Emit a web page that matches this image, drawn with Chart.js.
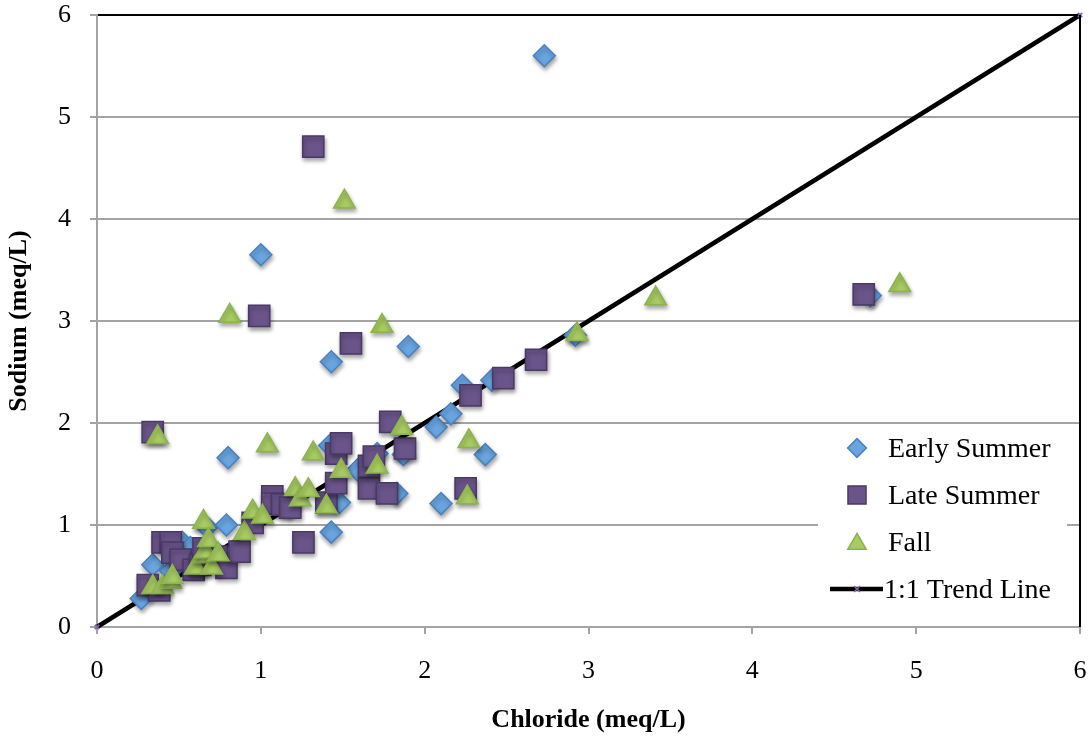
<!DOCTYPE html>
<html><head><meta charset="utf-8">
<script src="https://cdn.jsdelivr.net/npm/chart.js@4/dist/chart.umd.min.js"></script>
<style>html,body{margin:0;padding:0;background:#fff}canvas{display:block}</style>
</head><body>
<canvas id="c" width="1092" height="740"></canvas>
<script>
const axisTicks = [0, 1, 2, 3, 4, 5, 6];
const seriesNames = ['Early Summer', 'Late Summer', 'Fall', '1:1 Trend Line'];

const earlyChloride = [0.27,0.34,0.45,0.52,0.57,0.62,0.67,0.75,0.79,0.80,1.00,1.17,1.42,1.43,1.43,1.48,1.59,1.71,1.83,1.87,1.90,2.07,2.10,2.16,2.23,2.37,2.41,2.73,2.92,4.72];
const earlySodium   = [0.28,0.61,0.55,0.83,0.78,0.62,0.98,0.70,1.00,1.66,3.65,1.18,1.78,2.60,0.93,1.22,1.54,1.70,1.31,1.69,2.75,1.96,1.21,2.09,2.37,1.69,2.42,5.60,2.86,3.25];

const lateChloride = [0.31,0.34,0.38,0.40,0.45,0.46,0.51,0.59,0.63,0.65,0.73,0.79,0.87,0.95,0.99,1.07,1.07,1.13,1.18,1.26,1.32,1.40,1.46,1.46,1.49,1.55,1.66,1.66,1.69,1.77,1.79,1.88,2.25,2.28,2.48,2.68,4.68];
const lateSodium   = [0.41,1.91,0.36,0.83,0.83,0.73,0.66,0.56,0.61,0.77,0.69,0.58,0.74,1.02,3.05,1.28,1.21,1.20,1.17,0.83,4.71,1.22,1.41,1.70,1.80,2.78,1.36,1.58,1.67,1.31,2.01,1.75,1.36,2.27,2.44,2.62,3.26];

const fallChloride = [0.34,0.37,0.40,0.45,0.46,0.60,0.65,0.65,0.66,0.68,0.70,0.74,0.81,0.90,0.95,1.01,1.04,1.21,1.24,1.29,1.32,1.40,1.49,1.51,1.71,1.74,1.86,2.26,2.27,2.93,3.41,4.90];
const fallSodium   = [0.39,1.86,0.39,0.44,0.49,0.58,1.03,0.69,0.74,0.85,0.58,0.71,3.05,0.92,1.13,1.08,1.78,1.35,1.25,1.34,1.70,1.18,1.53,4.17,1.57,2.95,1.95,1.27,1.82,2.87,3.22,3.35];

const trendChloride = [0, 6];
const trendSodium   = [0, 6];

const pts = (xs, ys) => xs.map((x, i) => ({x, y: ys[i]}));

const FONT = "'Liberation Serif', 'Times New Roman', serif";
const GRID = '#a3a3a3';

const styles = [
  {shape: 'rectRot', fill: '#69a5df', stroke: '#4a80c2', r: 11},
  {shape: 'rect', fill: '#6a5489', stroke: '#4a3967', r: 15},
  {shape: 'triangle', fill: '#a9cc62', stroke: '#8cb34e', r: 12.5}
];

const shadowPlugin = {
  id: 'shadow',
  beforeDatasetDraw(chart, args) {
    if (chart.data.datasets[args.index].type !== 'scatter') return;
    const ctx = chart.ctx;
    ctx.save();
    ctx.shadowColor = 'rgba(0,0,0,0.35)';
    ctx.shadowBlur = 4;
    ctx.shadowOffsetX = 1;
    ctx.shadowOffsetY = 3;
  },
  afterDatasetDraw(chart, args) {
    if (chart.data.datasets[args.index].type !== 'scatter') return;
    chart.ctx.restore();
  }
};

function shapePath(ctx, shape, x, y, r) {
  ctx.beginPath();
  if (shape === 'rectRot') {
    ctx.moveTo(x, y - r); ctx.lineTo(x + r, y); ctx.lineTo(x, y + r); ctx.lineTo(x - r, y); ctx.closePath();
  } else if (shape === 'rect') {
    const s = r * Math.SQRT1_2;
    ctx.rect(x - s, y - s, 2 * s, 2 * s);
  } else {
    const w = r * Math.sqrt(3) / 2;
    ctx.moveTo(x, y - r); ctx.lineTo(x + w, y + r / 2); ctx.lineTo(x - w, y + r / 2); ctx.closePath();
  }
}

const framePlugin = {
  id: 'frame',
  afterDraw(chart) {
    const ctx = chart.ctx, a = chart.chartArea;
    ctx.save();
    // legend box
    const bx = 818, by = 428, bw = 249, bh = 194;
    ctx.fillStyle = '#fff';
    ctx.fillRect(bx, by, bw, bh);
    // right border of plot area
    ctx.strokeStyle = '#000';
    ctx.lineWidth = 2;
    ctx.beginPath();
    ctx.moveTo(a.right, a.top); ctx.lineTo(a.right, a.bottom);
    ctx.stroke();
    ctx.font = '28px ' + FONT;
    ctx.fillStyle = '#000';
    ctx.textBaseline = 'middle';
    ctx.textAlign = 'left';
    const rows = [448, 495, 542, 589];
    const mx = 857, tx = 888;
    for (let i = 0; i < 3; i++) {
      const st = styles[i];
      shapePath(ctx, st.shape, mx, rows[i] + (i === 2 ? 2 : 0), st.r * 0.85);
      ctx.fillStyle = st.fill; ctx.fill();
      ctx.lineWidth = 1.5; ctx.strokeStyle = st.stroke; ctx.stroke();
      ctx.fillStyle = '#000';
      ctx.fillText(seriesNames[i], tx, rows[i] + 2);
    }
    ctx.strokeStyle = '#000';
    ctx.lineWidth = 4.5;
    ctx.beginPath(); ctx.moveTo(830, rows[3]); ctx.lineTo(883, rows[3]); ctx.stroke();
    ctx.strokeStyle = '#8064a2'; ctx.lineWidth = 1.5;
    ctx.beginPath(); ctx.moveTo(854, rows[3]-3); ctx.lineTo(860, rows[3]+3); ctx.moveTo(860, rows[3]-3); ctx.lineTo(854, rows[3]+3); ctx.stroke();
    ctx.fillStyle = '#000';
    ctx.fillText(seriesNames[3], tx - 4, rows[3] + 2);
    ctx.restore();
  }
};

const scatterSet = (label, data, st, order) => ({
  type: 'scatter', label, data, order,
  pointStyle: st.shape, pointRadius: st.r, pointHoverRadius: st.r,
  backgroundColor: st.fill, borderColor: st.stroke, pointBorderWidth: 1.5
});

new Chart(document.getElementById('c'), {
  data: {
    datasets: [
      {
        type: 'line', label: seriesNames[3], order: 4,
        data: pts(trendChloride, trendSodium),
        borderColor: '#000', borderWidth: 4.5,
        pointStyle: 'crossRot', pointRadius: 3, pointBorderColor: '#8064a2', pointBorderWidth: 2,
        pointBackgroundColor: '#8064a2', clip: false, fill: false
      },
      scatterSet(seriesNames[0], pts(earlyChloride, earlySodium), styles[0], 3),
      scatterSet(seriesNames[1], pts(lateChloride, lateSodium), styles[1], 2),
      scatterSet(seriesNames[2], pts(fallChloride, fallSodium), styles[2], 1)
    ]
  },
  options: {
    responsive: false,
    animation: false,
    devicePixelRatio: 1,
    layout: {autoPadding: false, padding: {top: 15, right: 12, left: 0, bottom: 0}},
    plugins: {legend: {display: false}, tooltip: {enabled: false}},
    scales: {
      x: {
        type: 'linear', min: 0, max: 6,
        afterBuildTicks: s => { s.ticks = axisTicks.map(v => ({value: v})); },
        afterFit: s => { s.height = 113; s.paddingLeft = 0; s.paddingRight = 0; },
        ticks: {color: '#000', font: {family: FONT, size: 26}, padding: 22},
        grid: {drawOnChartArea: false, drawTicks: true, tickLength: 7, tickColor: GRID, tickWidth: 2, lineWidth: 2, color: GRID},
        border: {color: GRID, width: 2},
        title: {display: true, text: 'Chloride (meq/L)', color: '#000', font: {family: FONT, size: 26, weight: 'bold'}, padding: {top: 0, bottom: 4}}
      },
      y: {
        type: 'linear', min: 0, max: 6,
        afterBuildTicks: s => { s.ticks = axisTicks.map(v => ({value: v})); },
        afterFit: s => { s.width = 97; s.paddingTop = 0; s.paddingBottom = 0; },
        ticks: {color: '#000', font: {family: FONT, size: 26}, padding: 19},
        grid: {
          drawTicks: true, tickLength: 7, tickColor: GRID, tickWidth: 2, lineWidth: 2,
          color: c => (c.tick && c.tick.value === 6) ? '#000' : GRID
        },
        border: {color: GRID, width: 2},
        title: {display: true, text: 'Sodium (meq/L)', color: '#000', font: {family: FONT, size: 26, weight: 'bold'}, padding: {top: 4, bottom: 0}}
      }
    }
  },
  plugins: [shadowPlugin, framePlugin]
});
</script>
</body></html>
